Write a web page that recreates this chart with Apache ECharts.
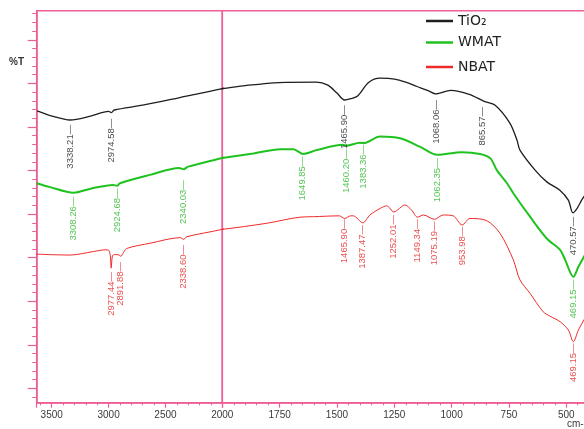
<!DOCTYPE html>
<html><head><meta charset="utf-8">
<script src="https://cdn.jsdelivr.net/npm/echarts@6/dist/echarts.min.js"></script>
<style>html,body{margin:0;padding:0;background:#fff}#c{width:584px;height:429px}</style>
</head><body><div id="c"></div>
<script>
// ---- data (wavenumber cm-1, %T) ----
const tio2Wn = [3628,3497,3338,3160,3000,2975,2950,2700,2382,2000,1900,1752,1589,1540,1500,1467,1440,1410,1362,1312,1248,1200,1151,1100,1069,1004,923,858,810,746,715,702,636,585,528,491,471,452,433,423,405];
const tio2T  = [67.0,65.8,64.9,65.8,66.9,66.6,67.2,68.3,70.0,72.1,72.8,73.5,73.6,72.9,71.1,69.5,69.8,70.4,73.5,74.5,74.3,73.6,72.6,71.6,70.9,71.7,70.8,69.2,68.3,64.2,60.3,58.0,53.4,50.7,48.8,46.5,43.6,44.7,46.5,47.3,48.5];

const wmatWn = [3632,3515,3308,3150,2960,2925,2900,2636,2380,2340,2300,2000,1865,1748,1690,1647,1588,1475,1460,1400,1383,1312,1225,1139,1062,956,876,831,803,760,731,658,585,527,505,469,447,423,405];
const wmatT  = [50.4,49.5,48.2,49.2,50.0,49.8,50.4,52.3,53.9,53.6,54.2,56.2,57.2,58.2,58.2,57.1,58.0,59.2,59.0,59.7,59.6,61.1,60.7,58.8,56.9,57.5,57.1,56.1,53.4,50.5,48.1,42.7,37.7,35.1,32.8,28.9,31.2,33.5,35.0];

const nbatWn = [3632,3339,3134,3031,3000,2985,2977,2965,2943,2906,2892,2875,2841,2636,2370,2339,2314,2000,1806,1661,1603,1490,1466,1440,1429,1387,1356,1312,1283,1252,1203,1174,1149,1123,1075,1036,993,954,920,847,789,731,702,658,601,572,527,491,469,447,423,405];
const nbatT  = [34.1,33.9,34.7,35.1,35.0,33.8,30.9,33.8,34.0,33.9,33.6,34.2,35.4,36.6,37.9,37.5,38.1,39.8,41.2,42.6,42.7,42.9,42.3,42.9,42.9,41.3,43.1,44.6,45.2,43.8,45.4,44.2,42.6,43.1,42.1,43.1,42.9,40.8,42.3,41.8,38.9,32.8,28.2,25.1,20.9,19.9,18.6,16.7,14.0,16.7,19.0,20.5];

// peak annotations: wavenumber and %T at the top of each label
const tio2Peaks = [3338.21,2974.58,1465.90,1068.06,865.57,470.57];
const tio2PeakT = [63.8,65.2,68.3,69.5,67.9,42.7];
const wmatPeaks = [3308.26,2924.68,2340.03,1649.85,1460.20,1383.36,1062.35,469.15];
const wmatPeakT = [47.3,49.2,51.1,56.5,58.2,59.2,56.1,28.2];
const nbatPeaks = [2977.44,2891.88,2338.60,1465.90,1387.47,1252.01,1149.34,1075.19,953.98,469.15];
const nbatPeakT = [30.0,32.3,36.2,42.1,40.8,43.1,42.1,41.6,40.4,13.6];

const legendNames = ['TiO₂','WMAT','NBAT'];
const yMajorTicks = [3.3,13.3,23.3,33.3,43.3,53.3,63.3,73.3,83.3];
const yMinorTicks = [1.3,5.3,7.3,9.3,11.3,15.3,17.3,19.3,21.3,25.3,27.3,29.3,31.3,35.3,37.3,39.3,41.3,45.3,47.3,49.3,51.3,55.3,57.3,59.3,61.3,65.3,67.3,69.3,71.3,75.3,77.3,79.3,81.3,85.3,87.3,89.3];

// ---- chart ----
const pink = '#ec5f97';
const specs = [
  {name: legendNames[0], wn: tio2Wn, t: tio2T, peaks: tio2Peaks, peakT: tio2PeakT, color: '#1e1e1e', width: 1.3, lab: '#222222'},
  {name: legendNames[1], wn: wmatWn, t: wmatT, peaks: wmatPeaks, peakT: wmatPeakT, color: '#1fc21f', width: 2, lab: '#2bb52b'},
  {name: legendNames[2], wn: nbatWn, t: nbatT, peaks: nbatPeaks, peakT: nbatPeakT, color: '#ee2a2a', width: 1, lab: '#e52424'}
];
const series = [];
specs.forEach(s => {
  const data = s.wn.map((w, i) => [w, s.t[i]]);
  [0, 1].forEach(g => {
    series.push({
      type: 'line', name: s.name, xAxisIndex: g, yAxisIndex: g === 0 ? 0 : 2,
      data: data, symbol: 'none', smooth: 0.3, clip: true, silent: true, z: 3,
      lineStyle: {color: s.color, width: s.width}, itemStyle: {color: s.color}
    });
    const pts = s.peaks.map((p, i) => [p, s.peakT[i]]).filter(d => g === 0 ? d[0] > 2000 : d[0] < 2000);
    series.push({
      type: 'scatter', name: s.name + ' peaks', xAxisIndex: g, yAxisIndex: g === 0 ? 0 : 2,
      data: pts, symbolSize: 0, silent: true, z: 4,
      label: {
        show: true, position: 'inside', rotate: 90, align: 'right', verticalAlign: 'middle',
        color: s.lab, fontSize: 9.5, fontFamily: "'Liberation Sans',Arial,sans-serif",
        formatter: p => p.value[0].toFixed(2) + '—'
      }
    });
  });
});

const xCommon = {
  type: 'value', inverse: true,
  axisLine: {lineStyle: {color: pink, width: 1.5}},
  axisTick: {length: 5, lineStyle: {color: pink, width: 1.2}},
  minorTick: {show: true, splitNumber: 5, length: 2.5, lineStyle: {color: pink, width: 1}},
  splitLine: {show: false}, minorSplitLine: {show: false}
};
const labelStyle = {fontSize: 10, color: '#3a3a3a', margin: 8, fontFamily: "'Liberation Sans',Arial,sans-serif", showMaxLabel: false, formatter: v => String(v)};

const chart = echarts.init(document.getElementById('c'));
chart.setOption({
  animation: false,
  backgroundColor: '#ffffff',
  grid: [
    {left: 36.7, top: 10.7, width: 185.6, height: 392, outerBoundsMode: 'none', containLabel: false, show: true, borderColor: pink, borderWidth: 1.5, backgroundColor: 'transparent'},
    {left: 222.3, top: 10.7, width: 401.3, height: 392, outerBoundsMode: 'none', containLabel: false, show: true, borderColor: pink, borderWidth: 1.5, backgroundColor: 'transparent'}
  ],
  xAxis: [
    Object.assign({}, xCommon, {gridIndex: 0, min: 2000, max: 3632, interval: 500, axisLabel: labelStyle}),
    Object.assign({}, xCommon, {gridIndex: 1, min: 250, max: 2000, interval: 250, axisLabel: labelStyle})
  ],
  yAxis: [
    {type: 'value', gridIndex: 0, min: 0, max: 90, position: 'left',
     axisLine: {show: true, lineStyle: {color: pink, width: 1.5}},
     axisTick: {show: true, length: 9, customValues: yMajorTicks, lineStyle: {color: pink, width: 1.2}},
     axisLabel: {show: false}, splitLine: {show: false}},
    {type: 'value', gridIndex: 0, min: 0, max: 90, position: 'left',
     axisLine: {show: false},
     axisTick: {show: true, length: 4.5, customValues: yMinorTicks, lineStyle: {color: pink, width: 1}},
     axisLabel: {show: false}, splitLine: {show: false}},
    {type: 'value', gridIndex: 1, min: 0, max: 90, show: false}
  ],
  legend: legendNames.map((n, i) => ({
    data: [n], left: 426, top: [14, 35.5, 60][i], padding: 0, orient: 'vertical',
    icon: 'rect', itemWidth: 27, itemHeight: 2.5, itemGap: 0, selectedMode: false,
    textStyle: {fontSize: 14, color: '#222', fontFamily: "'DejaVu Sans',sans-serif"}
  })),
  graphic: [
    {type: 'text', left: 9, top: 57, style: {text: '%T', fontSize: 10, fontWeight: 'bold', fill: '#333', fontFamily: "'Liberation Sans',Arial,sans-serif"}},
    {type: 'text', left: 567, top: 419, style: {text: 'cm-1', fontSize: 10, fill: '#3a3a3a', fontFamily: "'Liberation Sans',Arial,sans-serif"}}
  ],
  series: series
});
</script></body></html>
